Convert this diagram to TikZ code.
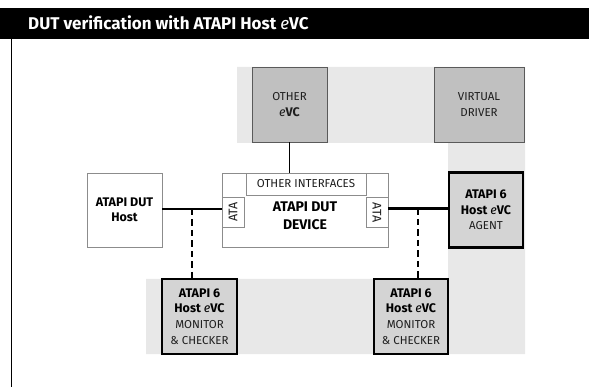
\documentclass[tikz,border=0pt]{standalone}
\usepackage{fontspec}
\setmainfont{Fira Sans}
\definecolor{bandgray}{HTML}{E8E8E8}
\definecolor{midgray}{HTML}{C0C0C0}
\definecolor{evcgray}{HTML}{D4D4D4}
\definecolor{edgegray}{HTML}{5A5A5A}
\definecolor{thingray}{HTML}{8C8C8C}
\definecolor{txtgray}{HTML}{1E1E1E}
\newcommand{\evc}{{\mdseries\itshape e}VC}
\newcommand{\hosttitle}{\fontsize{12.5}{16}\selectfont\bfseries\color{black}}
\tikzset{
  greybox/.style={draw=edgegray, fill=midgray, line width=0.9pt, inner sep=0pt,
    minimum width=75pt, minimum height=75pt, align=center, text=txtgray,
    font=\fontsize{11.5}{16}\selectfont},
  plainbox/.style={draw=thingray, fill=white, line width=0.9pt, inner sep=0pt, align=center},
  evcbox/.style={draw=black, fill=evcgray, line width=2.2pt, inner sep=0pt,
    minimum width=74pt, minimum height=75pt, align=center, text=txtgray,
    font=\fontsize{11.5}{15.7}\selectfont},
  atatext/.style={inner sep=0pt, text=txtgray, font=\fontsize{12.5}{13}\selectfont},
  link/.style={line width=1.5pt},
  heavylink/.style={line width=2.4pt},
  tapline/.style={line width=1.7pt, dash pattern=on 6.5pt off 4pt},
}
\begin{document}
\begin{tikzpicture}[x=1pt,y=-1pt]
\useasboundingbox (0,0) rectangle (589,387);

% title bar and frame edge
\fill[black] (0,8) rectangle (589,39);
\node[anchor=base west, text=white, inner sep=0pt, font=\fontsize{17}{19}\selectfont\bfseries]
  (title) at (28,29.5) {DUT verification with ATAPI Host \evc};
\draw[line width=1pt] (11.5,39) -- (11.5,387);

% shaded verification environment area
\fill[bandgray] (237,67) -- (525,67) -- (525,354) -- (146,354) -- (146,279)
  -- (448,279) -- (448,143) -- (237,143) -- cycle;

% environment components
\node[greybox] (otherevc) at (289.5,104.5) {OTHER\\{\fontsize{12.5}{16}\selectfont\bfseries\evc}};
\node[greybox, minimum width=90pt] (vdriver) at (479,104.5) {VIRTUAL\\DRIVER};

% device under test
\node[plainbox, minimum width=166pt, minimum height=74pt] (dut) at (305,210) {};
\node[plainbox, minimum width=120pt, minimum height=22pt, text=txtgray,
  font=\fontsize{11.5}{12}\selectfont] (otherif) at (306,184) {OTHER INTERFACES};
\node[plainbox, minimum width=22pt, minimum height=30pt] (ataL) at (233,212) {};
\node[atatext, rotate=90] (ataLtxt) at (ataL.center) {ATA};
\node[plainbox, minimum width=22pt, minimum height=30pt] (ataR) at (377,212.5) {};
\node[atatext, rotate=-90] (ataRtxt) at (ataR.center) {ATA};
\node[align=center, inner sep=0pt, font=\fontsize{14}{18}\selectfont\bfseries]
  (dutlabel) at (305,216) {ATAPI DUT\\DEVICE};

% host
\node[plainbox, minimum width=75pt, minimum height=74pt,
  font=\fontsize{12.5}{15.5}\selectfont\bfseries] (host) at (124.5,210) {ATAPI DUT\\Host};

% host eVC units
\node[evcbox] (agent) at (486,210)
  {{\hosttitle ATAPI 6}\\{\hosttitle Host \evc}\\AGENT};
\node[evcbox, minimum width=75pt] (monL) at (199.5,316.5)
  {{\hosttitle ATAPI 6}\\{\hosttitle Host \evc}\\MONITOR\\\& CHECKER};
\node[evcbox] (monR) at (411,316.5)
  {{\hosttitle ATAPI 6}\\{\hosttitle Host \evc}\\MONITOR\\\& CHECKER};

% connections
\draw[link, line width=1.8pt] (otherevc.south) -- (otherevc.south |- otherif.north);
\draw[link] (host.east |- 0,209) -- (ataL.west |- 0,209);
\draw[heavylink] (ataR.east |- 0,208.5) -- (agent.west |- 0,208.5);
\coordinate (tapL) at (192,209);
\coordinate (tapR) at (418,208.5);
\draw[tapline] (tapL) -- (tapL |- monL.north);
\draw[tapline] (tapR) -- (tapR |- monR.north);
\end{tikzpicture}
\end{document}
